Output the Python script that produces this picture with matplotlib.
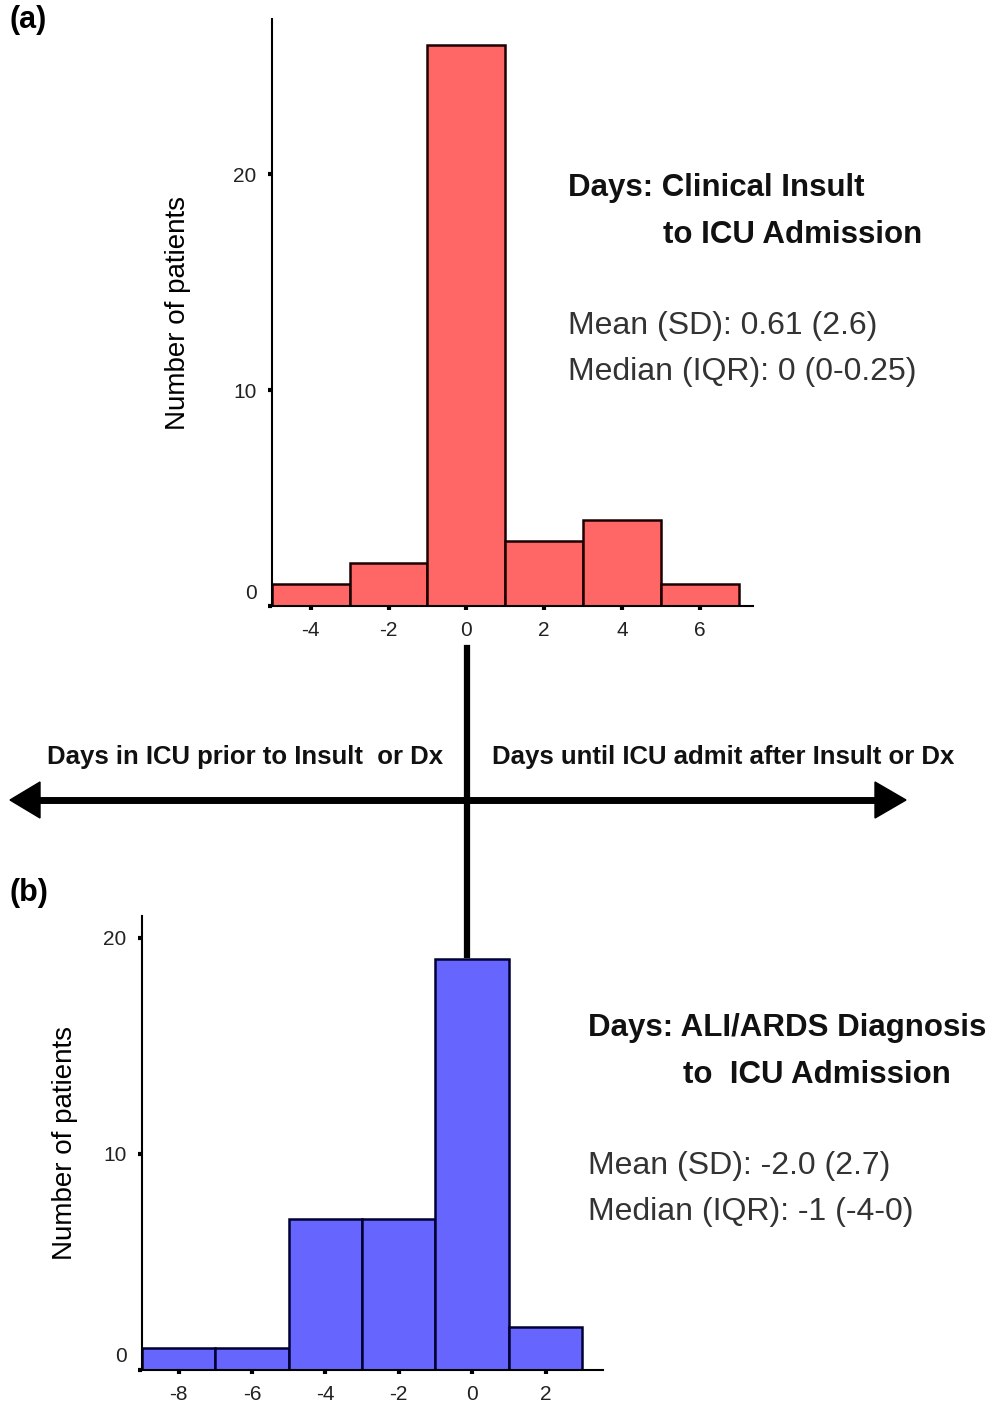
import numpy as np
import matplotlib.pyplot as plt
import matplotlib.transforms as mtransforms

plt.rcParams['font.family'] = ['Liberation Sans', 'DejaVu Sans']
plt.rcParams['axes.unicode_minus'] = False

# (a) clinical insult -> ICU admission
a_edges = [-5, -3, -1, 1, 3, 5, 7]
a_counts = [1, 2, 26, 3, 4, 1]
a_xticks = [-4, -2, 0, 2, 4, 6]
a_title = ["Days: Clinical Insult", "to ICU Admission"]
a_stats = ["Mean (SD): 0.61 (2.6)", "Median (IQR): 0 (0-0.25)"]

# (b) ALI/ARDS diagnosis -> ICU admission
b_edges = [-9, -7, -5, -3, -1, 1, 3]
b_counts = [1, 1, 7, 7, 19, 2]
b_xticks = [-8, -6, -4, -2, 0, 2]
b_title = ["Days: ALI/ARDS Diagnosis", "to  ICU Admission"]
b_stats = ["Mean (SD): -2.0 (2.7)", "Median (IQR): -1 (-4-0)"]

yticks = [0, 10, 20]

fig = plt.figure(figsize=(10.04, 14.21), dpi=100)

def hist_panel(rect, edges, counts, xticks, color, edge, xlim, ylim, label_x):
    ax = fig.add_axes(rect)
    widths = np.diff(edges)
    ax.bar(edges[:-1], counts, width=widths, align='edge', color=color,
           edgecolor=edge, linewidth=1.8)
    ax.set_xlim(*xlim)
    ax.set_ylim(*ylim)
    ax.set_xticks(xticks)
    ax.set_yticks(yticks)
    for s in ['top', 'right']:
        ax.spines[s].set_visible(False)
    for s in ['left', 'bottom']:
        ax.spines[s].set_linewidth(1.5)
    ax.tick_params(length=3, width=3, labelsize=15, labelcolor='#222222', pad=8)
    ax.set_ylabel("Number of patients", fontsize=20)
    ax.yaxis.set_label_coords(label_x, 0.5)
    fig.canvas.draw()
    lab0 = ax.get_yticklabels()[0]
    lab0.set_transform(lab0.get_transform() +
                       mtransforms.ScaledTranslation(0, 0.15, fig.dpi_scale_trans))
    return ax

hist_panel([0.2709, 0.5735, 0.479, 0.4131], a_edges, a_counts, a_xticks,
           '#FF6666', '#1a0000', (-5, 7.37), (0, 27.2), -0.168)
hist_panel([0.1414, 0.0359, 0.459, 0.3195], b_edges, b_counts, b_xticks,
           '#6666FF', '#000033', (-9, 3.56), (0, 21), -0.139)

def fx(px):
    return px / 1004

def fy(py):
    return 1 - py / 1421

# panel labels
fig.text(fx(10), fy(20), "(a)", fontsize=22, fontweight='bold', va='center')
fig.text(fx(10), fy(893), "(b)", fontsize=22, fontweight='bold', va='center')

# annotations
def stats_block(x, y_title, lines, stats, indent):
    fig.text(fx(x), fy(y_title), lines[0], fontsize=22.5, fontweight='bold',
             va='center', color='#111111')
    fig.text(fx(x + indent), fy(y_title + 47), lines[1], fontsize=22.5,
             fontweight='bold', va='center', color='#111111')
    fig.text(fx(x), fy(y_title + 138), stats[0], fontsize=23, va='center',
             color='#333333')
    fig.text(fx(x), fy(y_title + 184), stats[1], fontsize=23, va='center',
             color='#333333')

stats_block(568, 188, a_title, a_stats, 95)
stats_block(588, 1028, b_title, b_stats, 95)

# timeline arrow
fig.add_artist(plt.Line2D([fx(467), fx(467)], [fy(648), fy(955)],
                          color='black', linewidth=4.5))
fig.add_artist(plt.Line2D([fx(30), fx(885)], [fy(800), fy(800)],
                          color='black', linewidth=5))
for x0, x1 in [(fx(40), fx(10)), (fx(875), fx(906))]:
    fig.patches.append(plt.Polygon([[x1, fy(800)], [x0, fy(782)], [x0, fy(818)]],
                                   closed=True, color='black',
                                   transform=fig.transFigure, figure=fig))

fig.text(fx(47), fy(757), "Days in ICU prior to Insult  or Dx", fontsize=18.5,
         fontweight='bold', va='center', color='#111111')
fig.text(fx(492), fy(757), "Days until ICU admit after Insult or Dx", fontsize=18.5,
         fontweight='bold', va='center', color='#111111')

fig.savefig("out.png", dpi=100, facecolor='white')
